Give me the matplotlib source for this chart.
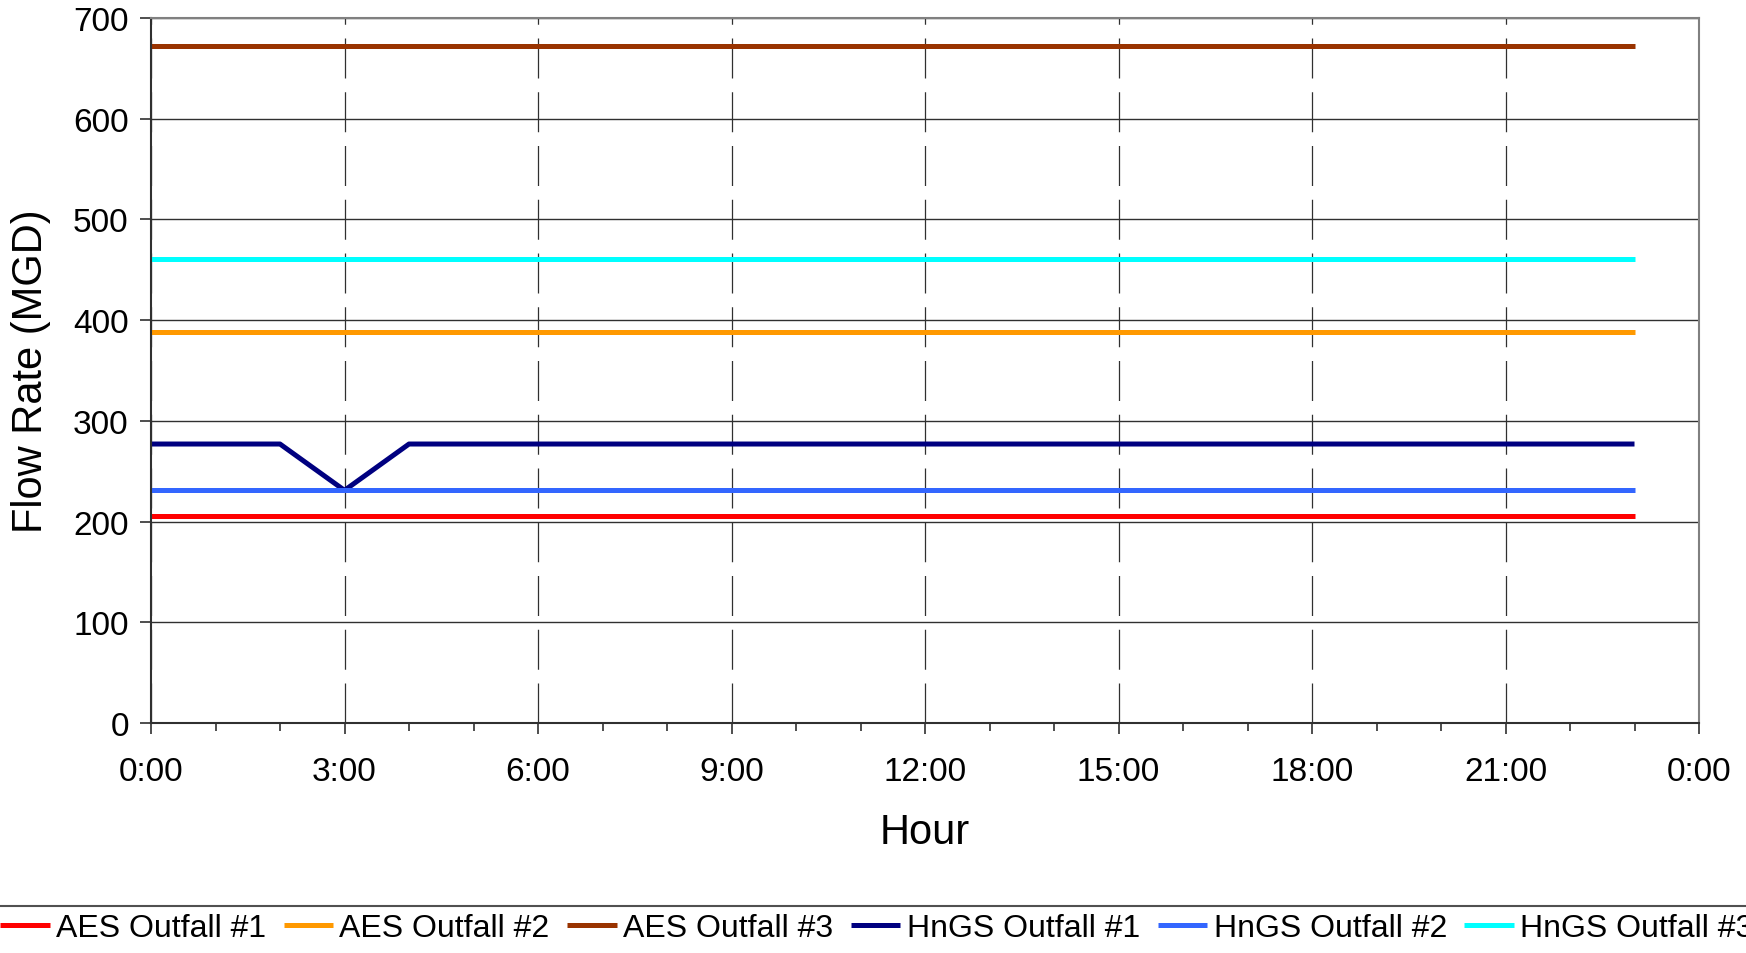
import numpy as np
import matplotlib.pyplot as plt
from matplotlib.lines import Line2D
from matplotlib.ticker import MultipleLocator, FuncFormatter

plt.rcParams['font.family'] = ['Liberation Sans', 'DejaVu Sans']

hours = list(range(24))
aes_1 = [206] * 24
aes_2 = [388] * 24
aes_3 = [672] * 24
hngs_1 = [277, 277, 277, 231] + [277] * 20
hngs_2 = [231] * 24
hngs_3 = [461] * 24

series = [
    ('AES Outfall #1', aes_1, '#FF0000'),
    ('AES Outfall #2', aes_2, '#FF9900'),
    ('AES Outfall #3', aes_3, '#993300'),
    ('HnGS Outfall #1', hngs_1, '#000080'),
    ('HnGS Outfall #2', hngs_2, '#3366FF'),
    ('HnGS Outfall #3', hngs_3, '#00FFFF'),
]

fig = plt.figure(figsize=(17.46, 9.54), dpi=100)
ax = fig.add_axes([151 / 1746, 1 - 724 / 954, (1699 - 151) / 1746, (724 - 19) / 954])

for name, vals, col in series:
    ax.plot(hours, vals, color=col, lw=3.6, label=name, solid_capstyle='butt')

ax.set_xlim(0, 24)
ax.set_ylim(0, 700)
ax.xaxis.set_major_locator(MultipleLocator(3))
ax.xaxis.set_minor_locator(MultipleLocator(1))
ax.yaxis.set_major_locator(MultipleLocator(100))
ax.xaxis.set_major_formatter(FuncFormatter(lambda v, p: f"{int(round(v)) % 24}:00"))

ax.grid(axis='y', color='#303030', lw=1.0)
ax.grid(axis='x', which='major', color='#303030', lw=0.9, linestyle=(0, (32, 11)))
ax.set_axisbelow(True)

for s in ['left', 'bottom']:
    ax.spines[s].set_color('#303030')
    ax.spines[s].set_linewidth(1.5)
for s in ['top', 'right']:
    ax.spines[s].set_color('#808080')
    ax.spines[s].set_linewidth(1.5)

ax.tick_params(axis='both', which='major', direction='out', length=8, width=1.2,
               color='#303030', labelsize=24, pad=8)
ax.tick_params(axis='x', which='minor', direction='out', length=6, width=1.2, color='#303030')
ax.tick_params(axis='x', which='major', pad=16)

ax.set_xlabel('Hour', fontsize=30, labelpad=18)
ax.set_ylabel('Flow Rate (MGD)', fontsize=30, labelpad=16)

fig.add_artist(Line2D([0, 1], [1 - 907 / 954, 1 - 907 / 954], transform=fig.transFigure,
                      color='#505050', lw=1.5))

fig.legend(loc='center left', bbox_to_anchor=(0.0, 1 - 929 / 954), ncol=6,
           frameon=False, handlelength=1.55, handletextpad=0.2, borderpad=0,
           borderaxespad=0, columnspacing=0.55,
           prop={'family': ['Liberation Sans Narrow', 'Liberation Sans'], 'size': 23})

fig.savefig('out.png', dpi=100)
